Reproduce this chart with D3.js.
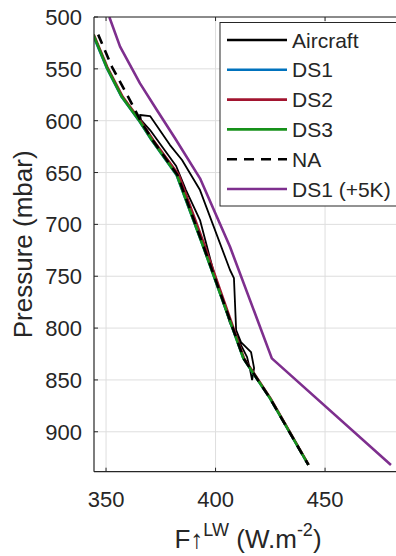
<!DOCTYPE html>
<html><head><meta charset="utf-8">
<script src="https://cdn.jsdelivr.net/npm/d3@7"></script>
<style>
body{margin:0;background:#fff}
svg{display:block}
text{font-family:"Liberation Sans",Arial,Helvetica,sans-serif;fill:#262626}
</style>
</head><body>
<svg id="c" width="396" height="556"></svg>
<script>
// ---------- data ----------
const xTicks = [350, 400, 450];
const yTicks = [500, 550, 600, 650, 700, 750, 800, 850, 900];

const levelsDS = [517, 548.5, 577, 601, 618.6, 652.4, 721.6, 829.2, 867.8, 932];
const ds1 = [344.0, 350.2, 357.1, 365.4, 370.8, 382.2, 394.4, 412.7, 424.9, 442.4];
const ds2 = [344.4, 350.6, 357.6, 366.0, 371.5, 383.2, 395.2, 413.0, 425.1, 442.5];
const ds3 = [344.2, 350.3, 357.2, 365.5, 370.9, 382.3, 394.4, 412.7, 424.9, 442.4];
const na  = [346.4, 352.8, 360.1, 366.0, 371.2, 382.6, 394.6, 412.8, 424.9, 442.4];

const levelsWarm = [500, 528.6, 564, 589.7, 617, 655.6, 721.6, 829.2, 932];
const ds1Warm = [351.5, 356.4, 365.5, 373.2, 381.5, 392.9, 406.6, 425.7, 480.1];

const aircraftP = [850.2, 838.6, 823.1, 813.5, 801.9, 751.8, 744.0, 666.9, 637.9, 623.5, 595.5, 594.5,
                   599.4, 609.0, 643.7, 666.9, 695.8, 744.0, 795.2, 808.7, 818.3, 828.0, 840.5, 850.2];
const aircraftF = [416.7, 417.6, 416.2, 411.6, 409.4, 408.4, 406.6, 392.9, 384.7, 379.2, 370.1, 365.5,
                   366.0, 370.1, 382.0, 386.5, 392.9, 398.9, 406.6, 409.8, 412.1, 414.4, 415.8, 416.7];

const legendLabels = ["Aircraft", "DS1", "DS2", "DS3", "NA", "DS1 (+5K)"];

// ---------- styles ----------
const styles = {
  "Aircraft": {color: "#000000", width: 1.8, dash: null},
  "DS1": {color: "#0072BD", width: 2.6, dash: null},
  "DS2": {color: "#A2142F", width: 2.6, dash: null},
  "DS3": {color: "#16911a", width: 2.6, dash: null},
  "NA": {color: "#000000", width: 2.6, dash: "10,7"},
  "DS1 (+5K)": {color: "#7E2F8E", width: 2.6, dash: null}
};

const svg = d3.select("#c");
const pL = 94, pR = 401.7, pT = 17, pB = 471.7;
const x = d3.scaleLinear().domain([344.5, 485]).range([pL, pR]);
const y = d3.scaleLinear().domain([500, 938.5]).range([pT, pB]);

svg.append("defs").append("clipPath").attr("id", "clip")
  .append("rect").attr("x", pL).attr("y", pT).attr("width", pR - pL).attr("height", pB - pT);

// grid
const grid = svg.append("g");
grid.selectAll(".gx").data(xTicks).enter().append("line")
  .attr("x1", d => x(d)).attr("x2", d => x(d)).attr("y1", pT).attr("y2", pB)
  .attr("stroke", "#dedede").attr("stroke-width", 1);
grid.selectAll(".gy").data(yTicks).enter().append("line")
  .attr("x1", pL).attr("x2", pR).attr("y1", d => y(d)).attr("y2", d => y(d))
  .attr("stroke", "#dedede").attr("stroke-width", 1);

// lines
const plot = svg.append("g").attr("clip-path", "url(#clip)");
const line = d3.line().x(d => x(d[0])).y(d => y(d[1]));
function draw(vals, levels, name) {
  const s = styles[name];
  plot.append("path").datum(vals.map((v, i) => [v, levels[i]]))
    .attr("d", line).attr("fill", "none").attr("stroke", s.color)
    .attr("stroke-width", s.width).attr("stroke-dasharray", s.dash)
    .attr("stroke-linejoin", "round");
}
draw(aircraftF, aircraftP, "Aircraft");
draw(ds1, levelsDS, "DS1");
draw(ds2, levelsDS, "DS2");
draw(ds3, levelsDS, "DS3");
draw(na, levelsDS, "NA");
draw(ds1Warm, levelsWarm, "DS1 (+5K)");

// axes (MATLAB style box, inward ticks)
const axisColor = "#262626";
const ax = svg.append("g");
ax.append("line").attr("x1", pL).attr("x2", pR).attr("y1", pB).attr("y2", pB)
  .attr("stroke", axisColor).attr("stroke-width", 1.2);
ax.append("line").attr("x1", pL).attr("x2", pR).attr("y1", pT).attr("y2", pT)
  .attr("stroke", axisColor).attr("stroke-width", 1);
ax.append("line").attr("x1", pL).attr("x2", pL).attr("y1", pT).attr("y2", pB)
  .attr("stroke", axisColor).attr("stroke-width", 1.2);

xTicks.forEach(t => {
  ax.append("line").attr("x1", x(t)).attr("x2", x(t)).attr("y1", pB).attr("y2", pB - 4)
    .attr("stroke", axisColor).attr("stroke-width", 1);
  ax.append("line").attr("x1", x(t)).attr("x2", x(t)).attr("y1", pT).attr("y2", pT + 4)
    .attr("stroke", axisColor).attr("stroke-width", 1);
  ax.append("text").attr("x", x(t)).attr("y", pB + 35).attr("text-anchor", "middle")
    .attr("font-size", 22).text(t);
});
yTicks.forEach(t => {
  ax.append("line").attr("x1", pL).attr("x2", pL + 4).attr("y1", y(t)).attr("y2", y(t))
    .attr("stroke", axisColor).attr("stroke-width", 1);
  ax.append("text").attr("x", pL - 12).attr("y", y(t) + 8).attr("text-anchor", "end")
    .attr("font-size", 22).text(t);
});

// axis labels
svg.append("text").attr("transform", `translate(32,${(pT + pB) / 2}) rotate(-90)`)
  .attr("text-anchor", "middle").attr("font-size", 26).text("Pressure (mbar)");

const xl = svg.append("text").attr("x", 248).attr("y", 548)
  .attr("text-anchor", "middle").attr("font-size", 26);
xl.append("tspan").text("F\u2191");
xl.append("tspan").attr("font-size", 18).attr("dy", -12).text("LW");
xl.append("tspan").attr("dy", 12).text(" (W.m");
xl.append("tspan").attr("font-size", 18).attr("dy", -12).text("-2");
xl.append("tspan").attr("dy", 12).text(")");

// legend
const lg = svg.append("g");
lg.append("rect").attr("x", 220).attr("y", 22.5).attr("width", 190).attr("height", 183.5)
  .attr("fill", "#fff").attr("stroke", axisColor).attr("stroke-width", 1);
legendLabels.forEach((name, i) => {
  const s = styles[name];
  const yy = 40 + i * 29.8;
  lg.append("line").attr("x1", 227).attr("x2", 287).attr("y1", yy).attr("y2", yy)
    .attr("stroke", s.color).attr("stroke-width", name === "Aircraft" ? 2.6 : s.width)
    .attr("stroke-dasharray", s.dash);
  lg.append("text").attr("x", 292).attr("y", yy + 7.5).attr("font-size", 21).text(name);
});
</script>
</body></html>
